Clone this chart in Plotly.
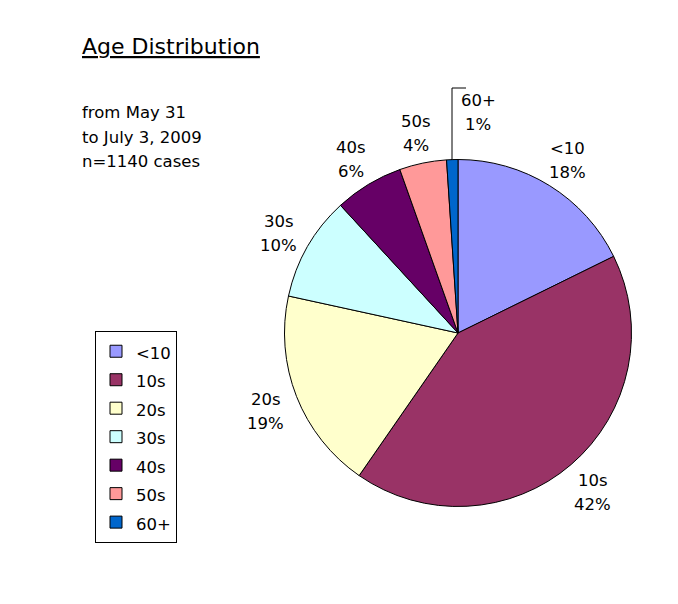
import math
import plotly.graph_objects as go

# Données (n=1140)
categories = ["<10", "10s", "20s", "30s", "40s", "50s", "60+"]
cas = [202, 478, 214, 111, 73, 50, 12]
couleurs = ["#9999FF", "#993366", "#FFFFCC", "#CCFFFF", "#660066", "#FF9999", "#0066CC"]
sous_titre = ["from May 31", "to July 3, 2009", "n=1140 cases"]

W, H = 678, 604
DEC = 8  # marge du body dans la page
police = "DejaVu Sans, Verdana, sans-serif"


def px(x):
    return (x - DEC) / W


def py(y):
    return 1 - (y - DEC) / H


cx, cy, R = 458, 333, 173.5  # centre et rayon du camembert (pixels de la capture)

fig = go.Figure(go.Pie(
    labels=[f"<span style='font-size:16.5px'>{c}</span>" for c in categories],
    values=cas,
    sort=False,
    direction="clockwise",
    rotation=0,
    textinfo="none",
    hovertext=categories,
    hoverinfo="text+percent",
    marker=dict(colors=couleurs, line=dict(color="black", width=1)),
    domain=dict(x=[px(cx - R), px(cx + R)], y=[py(cy + R), py(cy - R)]),
))

# Étiquettes autour du camembert, calculées à partir des angles
total = sum(cas)
cumul = 0
annotations = []
for cat, v in zip(categories, cas):
    mid = (cumul + v / 2) / total * 2 * math.pi
    cumul += v
    pct = round(v / total * 100)
    r = 1.19 * R
    lx = cx + r * math.sin(mid)
    ly = cy - r * math.cos(mid) + 3
    if cat == "60+":
        lx, ly = cx + 20, cy - R - 47
    for k, t in enumerate([cat, f"{pct}%"]):
        annotations.append(dict(
            x=px(lx), y=py(ly - 12 + 24 * k), xref="paper", yref="paper",
            xanchor="center", yanchor="middle",
            text=t, showarrow=False,
            font=dict(size=16.5, color="black", family=police),
        ))

# Titre souligné et texte de gauche
annotations.append(dict(
    x=px(80), y=py(47), xref="paper", yref="paper", xanchor="left", yanchor="middle",
    text="<u>Age Distribution</u>", showarrow=False,
    font=dict(size=22, color="black", family=police),
))
for k, t in enumerate(sous_titre):
    annotations.append(dict(
        x=px(80), y=py(113 + 24 * k), xref="paper", yref="paper",
        xanchor="left", yanchor="middle",
        text=t, showarrow=False,
        font=dict(size=16.5, color="black", family=police),
    ))

# Trait de rappel pour 60+
shapes = [dict(
    type="path", xref="paper", yref="paper",
    path=f"M {px(452)} {py(160)} L {px(452)} {py(88)} L {px(466)} {py(88)}",
    line=dict(color="black", width=1),
)]

fig.update_layout(
    width=W, height=H,
    margin=dict(l=0, r=0, t=0, b=0),
    paper_bgcolor="white",
    plot_bgcolor="white",
    annotations=annotations,
    shapes=shapes,
    showlegend=True,
    legend=dict(
        x=px(95), y=py(331), xanchor="left", yanchor="top",
        bgcolor="white", bordercolor="black", borderwidth=1,
        font=dict(size=19.6, color="black", family=police),
        itemwidth=30,
        traceorder="normal",
    ),
)

fig.write_html("out.html")
